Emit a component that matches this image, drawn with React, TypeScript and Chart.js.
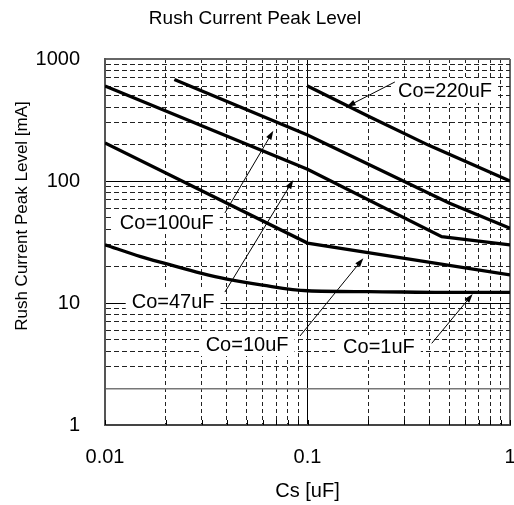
import React, { useEffect, useRef } from "react";
import { Chart, registerables } from "chart.js";

Chart.register(...registerables);

// ---- data ----
const xCo220 = [0.1, 0.2, 0.4, 1];
const yCo220 = [600, 340, 195, 100];

const xCo100 = [0.022, 0.1, 0.5, 1];
const yCo100 = [680, 238, 66, 41];

const xCo47 = [0.01, 0.1, 0.46, 1];
const yCo47 = [600, 125, 35, 30];

const xCo10 = [0.01, 0.1, 1];
const yCo10 = [205, 31, 17];

const xCo1 = [0.01, 0.015, 0.02, 0.03, 0.04, 0.06, 0.1, 0.2, 0.5, 1];
const yCo1 = [30, 24, 21, 17.5, 15.7, 14, 12.6, 12.4, 12.2, 12.2];

// tick values / labels
const xTickValues = [
  0.01, 0.02, 0.03, 0.04, 0.05, 0.06, 0.07, 0.08, 0.09,
  0.1, 0.2, 0.3, 0.4, 0.5, 0.6, 0.7, 0.8, 0.9, 1,
];
const xTickLabels = ["0.01", "0.1", "1"];
const yTickValues = [
  1, 2, 3, 4, 5, 6, 7, 8, 9,
  10, 20, 30, 40, 50, 60, 70, 80, 90,
  100, 200, 300, 400, 500, 600, 700, 800, 900, 1000,
];
const yTickLabels = ["1", "10", "100", "1000"];

// annotations (label text, label centre, arrow start, arrow tip) in data units
const annText = ["Co=220uF", "Co=100uF", "Co=47uF", "Co=10uF", "Co=1uF"];
const annLabelX = [0.4775, 0.0202, 0.0217, 0.0503, 0.2254];
const annLabelY = [547, 46.1, 10.2, 4.61, 4.36];
const annFromX = [0.27, 0.0391, 0.0391, 0.0918, 0.4107];
const annFromY = [648, 54.7, 12.3, 5.36, 4.67];
const annToX = [0.156, 0.0678, 0.0851, 0.1887, 0.654];
const annToY = [406, 258, 102, 23.3, 11.85];

const titleText = "Rush Current Peak Level";
const xTitle = "Cs [uF]";
const yTitle = "Rush Current Peak Level [mA]";

const FONT = "'Liberation Sans', Arial, Helvetica, sans-serif";

const isPow10 = (v: number) => {
  const l = Math.log10(v);
  return Math.abs(l - Math.round(l)) < 1e-9;
};

const mk = (xs: number[], ys: number[]) => xs.map((x, i) => ({ x, y: ys[i] }));

const annotationPlugin = {
  id: "annotations",
  beforeDatasetsDraw(chart: any) {
    const { ctx, scales } = chart;
    ctx.save();
    ctx.font = `20px ${FONT}`;
    ctx.textAlign = "center";
    ctx.textBaseline = "middle";
    annText.forEach((t, i) => {
      const cx = scales.x.getPixelForValue(annLabelX[i]);
      const cy = scales.y.getPixelForValue(annLabelY[i]);
      const w = ctx.measureText(t).width;
      ctx.fillStyle = "#fff";
      ctx.fillRect(cx - w / 2 - 6, cy - 12, w + 12, 24);
      ctx.fillStyle = "#000";
      ctx.fillText(t, cx, cy + 1);
    });
    ctx.restore();
  },
  afterDatasetsDraw(chart: any) {
    const { ctx, scales, chartArea } = chart;
    ctx.save();
    ctx.strokeStyle = "#000";
    ctx.fillStyle = "#000";
    ctx.lineWidth = 1;
    annText.forEach((_, i) => {
      const x1 = scales.x.getPixelForValue(annFromX[i]);
      const y1 = scales.y.getPixelForValue(annFromY[i]);
      const x2 = scales.x.getPixelForValue(annToX[i]);
      const y2 = scales.y.getPixelForValue(annToY[i]);
      const a = Math.atan2(y2 - y1, x2 - x1);
      const L = 9;
      const H = 3;
      ctx.beginPath();
      ctx.moveTo(x1, y1);
      ctx.lineTo(x2 - Math.cos(a) * L * 0.8, y2 - Math.sin(a) * L * 0.8);
      ctx.stroke();
      ctx.beginPath();
      ctx.moveTo(x2, y2);
      ctx.lineTo(x2 - Math.cos(a) * L - Math.sin(a) * H, y2 - Math.sin(a) * L + Math.cos(a) * H);
      ctx.lineTo(x2 - Math.cos(a) * L + Math.sin(a) * H, y2 - Math.sin(a) * L - Math.cos(a) * H);
      ctx.closePath();
      ctx.fill();
    });
    // small inner tick marks on the bottom axis
    ctx.lineWidth = 1;
    xTickValues.forEach((v) => {
      const px = Math.round(scales.x.getPixelForValue(v)) + 0.5;
      ctx.beginPath();
      ctx.moveTo(px, chartArea.bottom);
      ctx.lineTo(px, chartArea.bottom - 5);
      ctx.stroke();
    });
    // y-axis title
    ctx.font = `17px ${FONT}`;
    ctx.textAlign = "center";
    ctx.textBaseline = "middle";
    ctx.translate(scales.y.left + 22, (chartArea.top + chartArea.bottom) / 2 - 26);
    ctx.rotate(-Math.PI / 2);
    ctx.fillText(yTitle, 0, 0);
    ctx.restore();
  },
};

export default function App() {
  const ref = useRef<HTMLCanvasElement>(null);

  useEffect(() => {
    if (!ref.current) return;
    const lineDs = (label: string, xs: number[], ys: number[], smooth = false) => ({
      label,
      data: mk(xs, ys),
      borderColor: "#000",
      backgroundColor: "#000",
      borderWidth: 3.3,
      pointRadius: 0,
      fill: false,
      tension: smooth ? 0.4 : 0,
      cubicInterpolationMode: smooth ? "monotone" : "default",
    });

    const isEdgeX = (v: number) => Math.abs(v - 0.01) < 1e-9 || Math.abs(v - 1) < 1e-9;
    const isEdgeY = (v: number) => Math.abs(v - 1) < 1e-9 || Math.abs(v - 1000) < 1e-9;

    const chart = new Chart(ref.current, {
      type: "line",
      data: {
        datasets: [
          lineDs("Co=220uF", xCo220, yCo220),
          lineDs("Co=100uF", xCo100, yCo100),
          lineDs("Co=47uF", xCo47, yCo47),
          lineDs("Co=10uF", xCo10, yCo10),
          lineDs("Co=1uF", xCo1, yCo1, true),
        ] as any,
      },
      options: {
        responsive: false,
        maintainAspectRatio: false,
        animation: false,
        layout: { padding: { left: 0, right: 4, top: 0, bottom: 0 } },
        plugins: {
          legend: { display: false },
          tooltip: { enabled: false },
          title: {
            display: true,
            text: titleText,
            color: "#000",
            font: { family: FONT, size: 19, weight: "normal" },
            padding: { top: 7.6, bottom: 28.6 },
          },
        },
        scales: {
          x: {
            type: "logarithmic",
            min: 0.01,
            max: 1,
            afterBuildTicks: (s: any) => {
              s.ticks = xTickValues.map((v) => ({ value: v, major: isPow10(v) }));
            },
            afterFit: (s: any) => {
              s.height = 80;
              s.paddingRight = 4;
              s.paddingLeft = 0;
            },
            ticks: {
              autoSkip: false,
              maxRotation: 0,
              padding: 20,
              color: "#000",
              font: { family: FONT, size: 20 },
              callback: (v: any) => {
                const idx = [0.01, 0.1, 1].findIndex((m) => Math.abs(m - Number(v)) < 1e-9);
                return idx >= 0 ? xTickLabels[idx] : "";
              },
            },
            grid: {
              drawTicks: false,
              color: (c: any) => {
                const v = c.tick ? c.tick.value : 0;
                if (isEdgeX(v)) return "#666";
                return isPow10(v) ? "#000" : "#222";
              },
              lineWidth: (c: any) => {
                const v = c.tick ? c.tick.value : 0;
                return isEdgeX(v) ? 2 : 1;
              },
            },
            border: {
              display: true,
              color: "#444",
              width: 2,
              dash: (c: any) => {
                if (!c.tick) return [];
                return isPow10(c.tick.value) ? [] : [4, 3];
              },
            },
            title: {
              display: true,
              text: xTitle,
              color: "#000",
              font: { family: FONT, size: 20 },
              padding: { top: 0, bottom: 2 },
            },
          },
          y: {
            type: "logarithmic",
            min: 1,
            max: 1000,
            afterBuildTicks: (s: any) => {
              s.ticks = yTickValues.map((v) => ({ value: v, major: isPow10(v) }));
            },
            afterFit: (s: any) => {
              s.width = 105;
            },
            ticks: {
              autoSkip: false,
              padding: 25,
              color: "#000",
              font: { family: FONT, size: 20 },
              callback: (v: any) => {
                const idx = [1, 10, 100, 1000].findIndex((m) => Math.abs(m - Number(v)) < 1e-9);
                return idx >= 0 ? yTickLabels[idx] : "";
              },
            },
            grid: {
              drawTicks: false,
              color: (c: any) => {
                const v = c.tick ? c.tick.value : 0;
                if (isEdgeY(v)) return "#666";
                if (Math.abs(v - 2) < 1e-9) return "#777";
                return isPow10(v) ? "#000" : "#222";
              },
              lineWidth: (c: any) => {
                const v = c.tick ? c.tick.value : 0;
                if (isEdgeY(v)) return 2;
                if (Math.abs(v - 2) < 1e-9) return 1.5;
                return 1;
              },
            },
            border: {
              display: true,
              color: "#555",
              width: 2,
              dash: (c: any) => {
                if (!c.tick) return [];
                const v = c.tick.value;
                if (Math.abs(v - 2) < 1e-9) return [];
                return isPow10(v) ? [] : [5, 3];
              },
            },
          },
        },
      } as any,
      plugins: [annotationPlugin],
    });
    return () => chart.destroy();
  }, []);

  return (
    <div
      style={{
        position: "fixed",
        left: 0,
        top: 0,
        width: 514,
        height: 505,
        background: "#fff",
      }}
    >
      <canvas ref={ref} width={514} height={505} style={{ display: "block" }} />
    </div>
  );
}
